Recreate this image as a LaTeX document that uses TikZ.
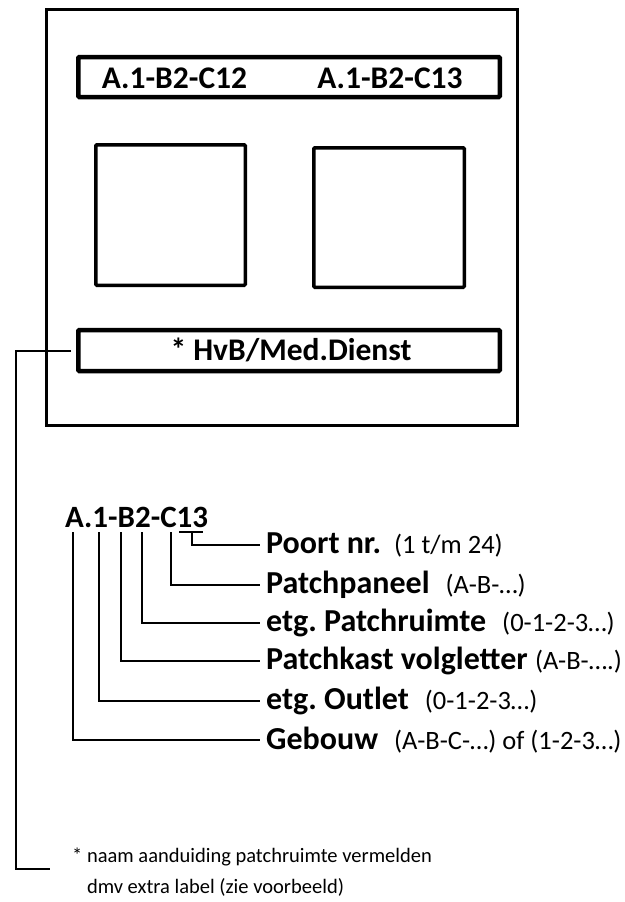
\documentclass[tikz,border=0pt]{standalone}
\usepackage{fontspec}
\setmainfont{Carlito}
\usetikzlibrary{positioning,calc}
\frenchspacing
\newcommand{\klein}[1]{{\fontsize{26.5}{30}\selectfont\mdseries #1}}
\tikzset{
  kast/.style={draw,line width=3pt,inner sep=0pt},
  etiket/.style={draw,line width=4.5pt,rounded corners=1pt,inner sep=0pt,minimum width=421.5pt},
  outlet/.style={draw,line width=3.5pt,rounded corners=1pt,inner sep=0pt},
  codetekst/.style={inner sep=0pt,font=\fontsize{31.5}{36}\selectfont\bfseries},
  uitleg/.style={anchor=west,inner xsep=6pt,inner ysep=0pt,font=\fontsize{32}{36}\selectfont\bfseries},
  voetnoot/.style={anchor=base west,inner sep=0pt,align=left,font=\fontsize{20.5}{31}\selectfont},
  lijn/.style={line width=2pt},
}

\begin{document}
\begin{tikzpicture}[x=1pt,y=-1pt]
  \useasboundingbox (0,0) rectangle (624,902);
  % wandkast met etiketten
  \node[kast,minimum width=471pt,minimum height=416pt] (frame) at (282,217.5) {};
  \node[etiket,minimum height=40pt] (boven) at (289,77) {};
  \node[etiket,minimum height=41pt] (onder) at (289,350.5) {};
  \node[outlet,minimum width=149.5pt,minimum height=140.5pt] (links) at (170.5,215) {};
  \node[outlet,minimum width=150.5pt,minimum height=139.5pt] (rechts) at (389,217.5) {};
  \node[codetekst,anchor=base] (c12) at (174.5,88) {A.1-B2-C12};
  \node[codetekst,anchor=base] (c13) at (390,88) {A.1-B2-C13};
  \node[codetekst,anchor=base] (dienst) at (291,360) {* HvB/Med.Dienst};

  % opbouw van de code
  \node[codetekst,anchor=base west,font=\fontsize{31}{36}\selectfont\bfseries] (code) at (65,527) {A.1-B2-C13};
  \node[uitleg] (poort) at (260,545) {Poort nr.\hspace{13pt}\klein{(1 t/m 24)}};
  \node[uitleg] (paneel) at (260,585) {Patchpaneel\hspace{16pt}\klein{(A-B-…)}};
  \node[uitleg] (ruimte) at (260,623) {etg. Patchruimte\hspace{16pt}\klein{(0-1-2-3…)}};
  \node[uitleg] (volg) at (260,661) {Patchkast volgletter \klein{(A-B-….)}};
  \node[uitleg] (etage) at (260,701) {etg. Outlet\hspace{16pt}\klein{(0-1-2-3…)}};
  \node[uitleg] (gebouw) at (260,740) {Gebouw\hspace{16pt}\klein{(A-B-C-…) of (1-2-3…)}};

  \coordinate (tA) at (73,532);
  \coordinate (t1) at (99,532);
  \coordinate (tB) at (121,532);
  \coordinate (t2) at (142,532);
  \coordinate (tC) at (171,532);
  \coordinate (nrL) at (179,532);
  \coordinate (nrR) at (203,532);
  \coordinate (nrM) at (192,532);

  \draw[lijn] (nrL) -- (nrR);
  \draw[lijn] (nrM) |- (poort.west);
  \draw[lijn] (tC) |- (paneel.west);
  \draw[lijn] (t2) |- (ruimte.west);
  \draw[lijn] (tB) |- (volg.west);
  \draw[lijn] (t1) |- (etage.west);
  \draw[lijn] (tA) |- (gebouw.west);

  % voetnoot
  \node[voetnoot] (noot) at (72,893) {* naam aanduiding patchruimte vermelden\\\hphantom{* }dmv extra label (zie voorbeeld)};
  \coordinate (hoek) at (16,869);
  \coordinate (voet) at (50,869);
  \draw[lijn,shorten <=5pt] (onder.west) -| (hoek) -- (voet);
\end{tikzpicture}
\end{document}
